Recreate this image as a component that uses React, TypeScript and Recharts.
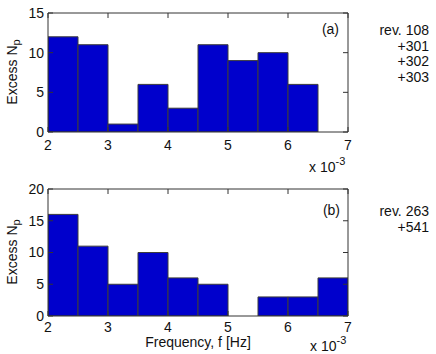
import React from 'react';
import { ComposedChart, Bar, Line, XAxis, YAxis } from 'recharts';

// histogram bins, width 0.5e-3 Hz
const binStarts = [2.0, 2.5, 3.0, 3.5, 4.0, 4.5, 5.0, 5.5, 6.0, 6.5];
const binWidth = 0.5;
const countsA = [12, 11, 1, 6, 3, 11, 9, 10, 6, 0];
const countsB = [16, 11, 5, 10, 6, 5, 0, 3, 3, 6];

const xTicks = [2, 3, 4, 5, 6, 7];
const yTicksA = [0, 5, 10, 15];
const yTicksB = [0, 5, 10, 15, 20];

const revA = ['rev. 108', '+301', '+302', '+303'];
const revB = ['rev. 263', '+541'];

const FONT = '"Liberation Sans", Arial, Helvetica, sans-serif';
const AXIS = '#333';
const BAR_FILL = '#0000cc';
const BAR_EDGE = '#3c3c3c';

interface PanelProps {
    counts: number[];
    yMax: number;
    yTicks: number[];
    top: number;
    height: number;
    marginBottom: number;
    tickGap: number;
}

const Panel: React.FC<PanelProps> = ({ counts, yMax, yTicks, top, height, marginBottom, tickGap }) => {
    const data = binStarts.map((s, i) => ({ mid: s + binWidth / 2, count: counts[i] }));
    const tickStyle = { fill: '#111', fontSize: 14, fontFamily: FONT };
    const blank = () => '';

    return (
        <div style={{ position: 'absolute', left: 0, top }}>
            <ComposedChart
                width={436}
                height={height}
                data={data}
                margin={{ top: 12, right: 87, bottom: marginBottom, left: 18 }}
                barCategoryGap={0}
                barGap={0}
            >
                <XAxis
                    xAxisId="bottom"
                    dataKey="mid"
                    type="number"
                    domain={[2, 7]}
                    ticks={xTicks}
                    interval={0}
                    allowDataOverflow
                    height={20}
                    stroke={AXIS}
                    tickSize={-5}
                    tickMargin={tickGap}
                    tick={tickStyle}
                />
                <XAxis
                    xAxisId="top"
                    orientation="top"
                    dataKey="mid"
                    type="number"
                    domain={[2, 7]}
                    ticks={xTicks}
                    interval={0}
                    allowDataOverflow
                    height={1}
                    stroke={AXIS}
                    tickSize={-5}
                    tickFormatter={blank}
                />
                <YAxis
                    yAxisId="left"
                    type="number"
                    domain={[0, yMax]}
                    ticks={yTicks}
                    interval={0}
                    allowDataOverflow
                    width={30}
                    stroke={AXIS}
                    tickSize={-5}
                    tickMargin={9}
                    tick={tickStyle}
                />
                <YAxis
                    yAxisId="right"
                    orientation="right"
                    type="number"
                    domain={[0, yMax]}
                    ticks={yTicks}
                    interval={0}
                    allowDataOverflow
                    width={1}
                    stroke={AXIS}
                    tickSize={-5}
                    tickFormatter={blank}
                />
                <Bar
                    xAxisId="bottom"
                    yAxisId="left"
                    dataKey="count"
                    fill={BAR_FILL}
                    stroke={BAR_EDGE}
                    strokeWidth={1}
                    isAnimationActive={false}
                />
                {/* invisible series so the mirrored top/right axes get a scale */}
                <Line
                    xAxisId="top"
                    yAxisId="right"
                    dataKey="count"
                    stroke="none"
                    dot={false}
                    activeDot={false}
                    isAnimationActive={false}
                />
            </ComposedChart>
        </div>
    );
};

const YLabel = ({ x, y }: { x: number; y: number }) => (
    <text x={x} y={y} transform={`rotate(-90 ${x} ${y})`} textAnchor="middle" fontSize={14} fill="#111">
        Excess N<tspan fontSize={11} dy={3}>p</tspan>
    </text>
);

const Exponent = ({ x, y }: { x: number; y: number }) => (
    <text x={x} y={y} fontSize={14} fill="#111">
        x 10<tspan fontSize={11} dy={-7}>-3</tspan>
    </text>
);

const RevList = ({ lines, x, y }: { lines: string[]; x: number; y: number }) => (
    <text x={x} y={y} textAnchor="end" fontSize={14} fill="#111">
        {lines.map((l, i) => (
            <tspan key={l} x={x} dy={i === 0 ? 0 : 15.5}>{l}</tspan>
        ))}
    </text>
);

export default function App() {
    return (
        <div style={{ position: 'absolute', left: 0, top: 0, width: 436, height: 354, background: '#fff', fontFamily: FONT }}>
            <Panel counts={countsA} yMax={15} yTicks={yTicksA} top={0} height={180} marginBottom={28} tickGap={13} />
            <Panel counts={countsB} yMax={20} yTicks={yTicksB} top={176} height={178} marginBottom={18} tickGap={11} />
            <svg width={436} height={354} style={{ position: 'absolute', left: 0, top: 0, pointerEvents: 'none', fontFamily: FONT }}>
                <YLabel x={17} y={72} />
                <YLabel x={17} y={252} />
                <text x={339} y={34} textAnchor="end" fontSize={14} fill="#111">(a)</text>
                <text x={340} y={215} textAnchor="end" fontSize={14} fill="#111">(b)</text>
                <RevList lines={revA} x={429} y={35} />
                <RevList lines={revB} x={429} y={216} />
                <Exponent x={309} y={172} />
                <Exponent x={310} y={351} />
                <text x={198} y={347} textAnchor="middle" fontSize={14} fill="#111">Frequency, f [Hz]</text>
            </svg>
        </div>
    );
}
